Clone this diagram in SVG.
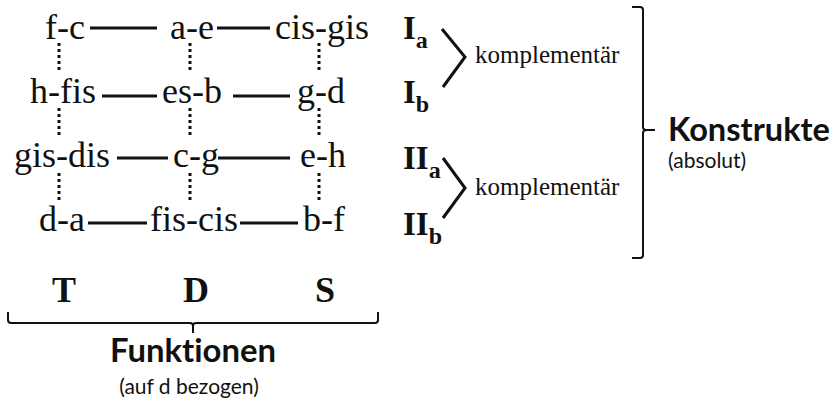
<svg xmlns="http://www.w3.org/2000/svg" width="835" height="409" viewBox="0 0 835 409">
<style>
.n{font-family:"Liberation Serif","Times New Roman",serif;font-size:36px;fill:#111}
.r{font-family:"Liberation Serif","Times New Roman",serif;font-weight:bold;font-size:33px;fill:#111}
.rs{font-family:"Liberation Serif","Times New Roman",serif;font-weight:bold;font-size:24px;fill:#111}
.k{font-family:"Liberation Serif","Times New Roman",serif;font-size:25px;fill:#111}
.h{font-family:Lato,"Open Sans",sans-serif;font-weight:bold;font-size:33px;fill:#111;font-variant-ligatures:none}
.s{font-family:Lato,"Open Sans",sans-serif;font-size:21px;fill:#111;font-variant-ligatures:none}
.f{font-family:"Liberation Serif","Times New Roman",serif;font-weight:bold;font-size:36px;fill:#111}
.ln{stroke:#111;stroke-width:3;fill:none}
.dt{stroke:#111;stroke-width:3;stroke-dasharray:3 3;fill:none}
.br{stroke:#111;stroke-width:2;fill:none}
</style>
<g id="connectors">
<path class="ln" d="M90,28H157M217,28H270M102,96H157M233,96H290M117,158H168M218,158H290M88,223H147M240,223H298"/>
<path class="dt" d="M59,43V70M59,108V135M59,173V200M190,43V70M190,108V135M190,173V200M319,43V70M319,108V135M319,173V200"/>
<path class="ln" stroke-width="2.5" d="M442,29L465,57L443,87M443,158L465,188L443,218"/>
<path class="br" d="M632,7H640Q643,7 643,10V127Q643,130 647,130H655M647,130Q643,130 643,133V255Q643,258 640,258H632"/>
<path class="br" d="M8,312V320Q8,323 11,323H190Q193,323 193,326V333M193,326Q193,323 196,323H375Q378,323 378,320V312"/>
</g>
<g id="row1">
<text class="n" x="45" y="39">f-c</text>
<text class="n" x="170" y="39">a-e</text>
<text class="n" x="275" y="39">cis-gis</text>
</g>
<g id="row2">
<text class="n" x="30" y="103">h-fis</text>
<text class="n" x="162" y="103">es-b</text>
<text class="n" x="297" y="103">g-d</text>
</g>
<g id="row3">
<text class="n" x="14" y="167">gis-dis</text>
<text class="n" x="173" y="167">c-g</text>
<text class="n" x="300" y="167">e-h</text>
</g>
<g id="row4">
<text class="n" x="39" y="231">d-a</text>
<text class="n" x="150" y="231">fis-cis</text>
<text class="n" x="303" y="231">b-f</text>
</g>
<g id="Ia"><text class="r" x="403" y="39">I<tspan class="rs" dy="9">a</tspan></text></g>
<g id="Ib"><text class="r" x="403" y="103">I<tspan class="rs" dy="9">b</tspan></text></g>
<g id="IIa"><text class="r" x="403" y="169">II<tspan class="rs" dy="9">a</tspan></text></g>
<g id="IIb"><text class="r" x="403" y="235">II<tspan class="rs" dy="9">b</tspan></text></g>
<g id="komp1"><text class="k" x="475" y="63">komplementär</text></g>
<g id="komp2"><text class="k" x="475" y="195">komplementär</text></g>
<g id="konstrukte">
<text class="h" x="668" y="141" textLength="162" lengthAdjust="spacingAndGlyphs">Konstrukte</text>
<text class="s" x="668" y="168">(absolut)</text>
</g>
<g id="TDS">
<text class="f" x="52" y="302">T</text>
<text class="f" x="183" y="302">D</text>
<text class="f" x="315" y="302">S</text>
</g>
<g id="funktionen">
<text class="h" x="193" y="362" text-anchor="middle" textLength="166" lengthAdjust="spacingAndGlyphs">Funktionen</text>
<text class="s" x="189" y="394" text-anchor="middle">(auf d bezogen)</text>
</g>
</svg>
